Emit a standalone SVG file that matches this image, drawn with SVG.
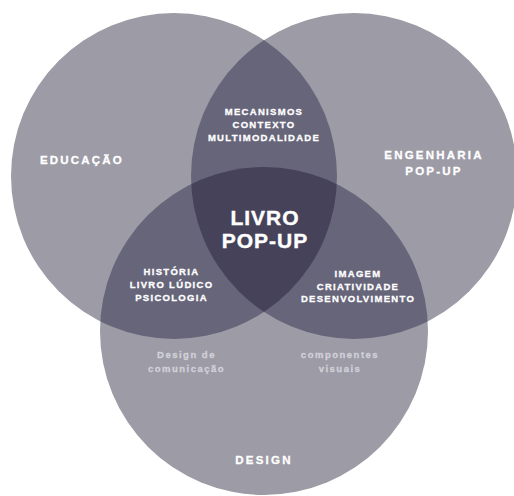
<svg xmlns="http://www.w3.org/2000/svg" width="514" height="496" viewBox="0 0 514 496">
  <defs>
    <clipPath id="clipEdu"><circle cx="174" cy="176" r="163"/></clipPath>
    <clipPath id="clipEng"><circle cx="354" cy="176" r="163"/></clipPath>
    <clipPath id="clipDes"><circle cx="264" cy="331" r="164"/></clipPath>
    <style>
      .single { fill: #9c9ba6; }
      .double { fill: #67657a; }
      .triple { fill: #454259; }
      text { font-family: "Liberation Sans", Arial, sans-serif; font-weight: bold; fill: #ffffff; stroke: #ffffff; stroke-width: 0.3px; text-anchor: middle; }
      .main { font-size: 11.5px; letter-spacing: 2.2px; }
      .small { font-size: 9.5px; letter-spacing: 1.3px; }
      .center { font-size: 21px; letter-spacing: 1px; stroke-width: 0.4px; }
      .soft { font-size: 9.5px; letter-spacing: 1.5px; fill: #d2d1d9; stroke: #d2d1d9; }
    </style>
  </defs>

  <rect width="514" height="496" fill="#ffffff"/>

  <!-- base circles -->
  <g id="circle-educacao"><circle class="single" cx="174" cy="176" r="163"/></g>
  <g id="circle-engenharia"><circle class="single" cx="354" cy="176" r="163"/></g>
  <g id="circle-design"><circle class="single" cx="264" cy="331" r="164"/></g>

  <!-- pairwise overlaps -->
  <g id="overlap-edu-eng" clip-path="url(#clipEng)"><circle class="double" cx="174" cy="176" r="163"/></g>
  <g id="overlap-edu-des" clip-path="url(#clipDes)"><circle class="double" cx="174" cy="176" r="163"/></g>
  <g id="overlap-eng-des" clip-path="url(#clipDes)"><circle class="double" cx="354" cy="176" r="163"/></g>

  <!-- centre overlap -->
  <g id="overlap-all" clip-path="url(#clipDes)">
    <g clip-path="url(#clipEng)"><circle class="triple" cx="174" cy="176" r="163"/></g>
  </g>

  <!-- labels -->
  <g id="label-educacao"><text class="main" x="82" y="164">EDUCAÇÃO</text></g>
  <g id="label-engenharia">
    <text class="main" x="434" y="159">ENGENHARIA</text>
    <text class="main" x="434" y="175">POP-UP</text>
  </g>
  <g id="label-design"><text class="main" x="264" y="464">DESIGN</text></g>

  <g id="label-edu-eng">
    <text class="small" x="264" y="115">MECANISMOS</text>
    <text class="small" x="264" y="128">CONTEXTO</text>
    <text class="small" x="264" y="141">MULTIMODALIDADE</text>
  </g>

  <g id="label-center">
    <text class="center" x="265" y="225">LIVRO</text>
    <text class="center" x="265" y="248">POP-UP</text>
  </g>

  <g id="label-edu-des">
    <text class="small" x="171.5" y="275">HISTÓRIA</text>
    <text class="small" x="171.5" y="288">LIVRO LÚDICO</text>
    <text class="small" x="171.5" y="301">PSICOLOGIA</text>
  </g>

  <g id="label-eng-des">
    <text class="small" x="358" y="277">IMAGEM</text>
    <text class="small" x="358" y="290">CRIATIVIDADE</text>
    <text class="small" x="358" y="302">DESENVOLVIMENTO</text>
  </g>

  <g id="label-design-comunicacao">
    <text class="soft" x="186.5" y="358">Design de</text>
    <text class="soft" x="186.5" y="372">comunicação</text>
  </g>
  <g id="label-componentes">
    <text class="soft" x="340" y="358">componentes</text>
    <text class="soft" x="340" y="372">visuais</text>
  </g>
</svg>
